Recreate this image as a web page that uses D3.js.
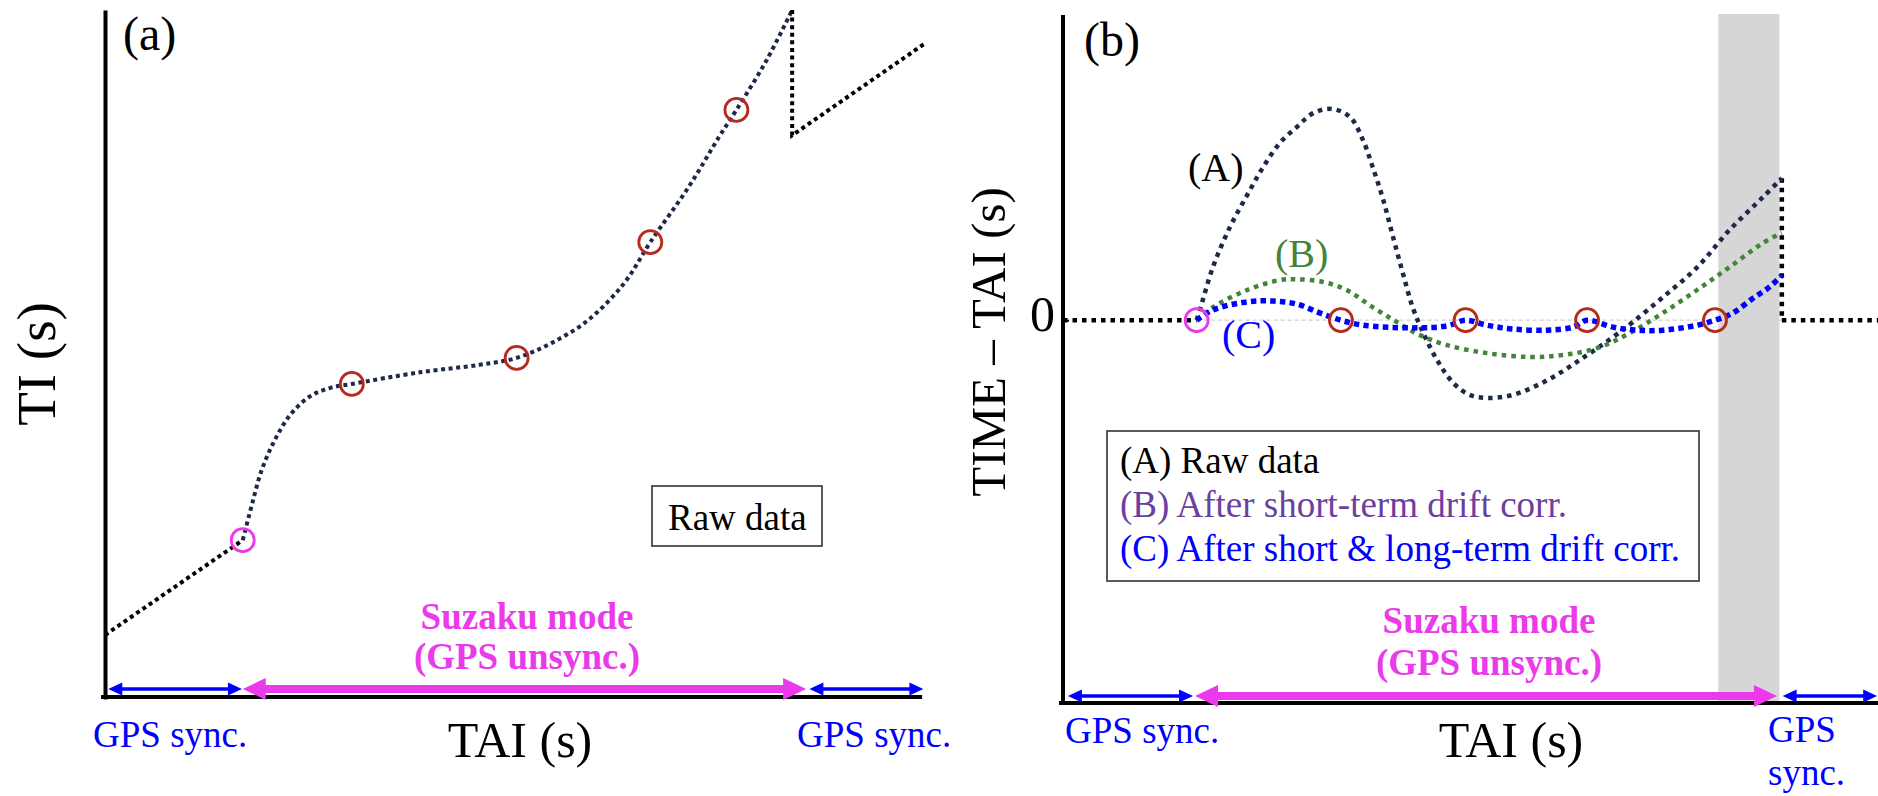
<!DOCTYPE html>
<html>
<head>
<meta charset="utf-8">
<script src="https://cdn.jsdelivr.net/npm/d3@7"></script>
<style>
  html, body { margin: 0; padding: 0; background: #fff; }
  svg { display: block; }
  text { font-family: "Liberation Serif", "Times New Roman", serif; }
</style>
</head>
<body>
<svg id="chart" width="1878" height="796"></svg>
<script>
// ---------- Panel (a): TI versus TAI ----------
// Segment recorded while GPS-synchronised, before Suzaku mode begins
const syncBeforeTAI = [0, 16.8];
const syncBeforeTI  = [9.05, 22.9];

// Raw TI during Suzaku mode (GPS unsynchronised)
const rawTAI = [16.8, 17.9, 19.1, 20.7, 22.6, 25.0, 27.4, 30.1, 38.4, 45.7, 50.2, 54.5, 58.9, 63.3, 66.5, 71.2, 74.9, 77.0, 80.7, 83.8];
const rawTI  = [22.9, 28.0, 33.1, 37.5, 41.2, 43.9, 45.1, 45.7, 47.4, 48.5, 49.5, 51.7, 55.0, 60.4, 66.4, 74.5, 81.8, 85.7, 93.0, 100.3];

// Jump back on GPS re-synchronisation, then synchronised again
const syncAfterTAI = [83.8, 83.8, 100.1];
const syncAfterTI  = [100.3, 82.0, 95.5];

// Reference points on the raw curve (first one = start of Suzaku mode)
const markTAI_a = [16.8, 30.1, 50.2, 66.5, 77.0];
const markTI_a  = [22.9, 45.7, 49.5, 66.4, 85.7];

// Interval spans along the TAI axis
const spanA = { syncL: [0.4, 16.7], suzaku: [16.8, 85.5], syncR: [85.9, 99.8] };

// ---------- Panel (b): TIME - TAI versus TAI ----------
const curveTAI_A = [16.4, 16.8, 18.4, 20.5, 22.6, 24.5, 26.6, 28.7, 30.7, 33.0, 35.2, 36.8, 38.0, 39.3, 40.5, 41.7, 42.9, 44.2, 45.9, 47.9, 49.9, 52.0, 55.2, 59.4, 63.4, 67.5, 69.9, 73.6, 77.8, 81.8, 85.9, 88.2];
const curveDT_A  = [0, 2.7, 13.9, 24.4, 32.7, 39.8, 46.3, 50.5, 54.1, 55.2, 53.1, 47.1, 40.0, 31.4, 21.7, 12.3, 3.4, -3.3, -10.4, -16.4, -19.5, -20.3, -19.5, -15.7, -10.4, -4.4, -0.5, 6.0, 13.8, 23.6, 32.2, 37.1];

const curveTAI_B = [16.4, 18.4, 22.6, 26.6, 28.7, 31.9, 34.8, 38.0, 41.0, 43.8, 47.1, 52.0, 57.3, 61.3, 65.5, 69.6, 73.6, 77.8, 81.8, 85.9, 88.2];
const curveDT_B  = [0, 3.4, 7.9, 10.5, 10.7, 10.0, 7.9, 3.4, -0.5, -3.9, -6.5, -8.6, -9.6, -9.1, -7.3, -3.3, 1.9, 7.9, 13.9, 20.2, 22.8];

const curveTAI_C = [16.4, 18.4, 22.6, 25.8, 28.7, 31.5, 34.1, 36.8, 42.9, 47.1, 49.4, 52.0, 55.2, 59.4, 62.6, 64.3, 67.5, 70.4, 73.6, 77.8, 80.0, 82.2, 84.7, 86.7, 88.2];
const curveDT_C  = [0, 2.7, 4.8, 5.0, 4.2, 1.9, 0, -1.3, -2.0, -1.5, 0, -1.3, -2.3, -2.6, -1.8, 0, -1.8, -2.6, -2.6, -1.3, 0, 1.9, 5.8, 8.7, 11.7];

const markTAI_b = [16.4, 34.1, 49.4, 64.3, 80.0];
const markDT_b  = [0, 0, 0, 0, 0];

const syncLevelB = [[0, 16.4], [88.2, 100]];      // TAI ranges at TIME - TAI = 0
const jumpTAI_b = 88.2;                             // re-sync step
const shadeTAI_b = [80.4, 87.9];                    // extrapolated interval
const spanB = { syncL: [0.6, 15.95], suzaku: [16.2, 87.6], syncR: [88.3, 99.9] };

const legendLines = ["(A) Raw data", "(B) After short-term drift corr.", "(C) After short & long-term drift corr."];
const legendColors = ["#000000", "#6b3fa0", "#0000ff"];

// ---------- Styles ----------
const NAVY = "#1c2947", GREEN = "#43843a", BLUE = "#0000ff", MAGENTA = "#ea3aea", RED = "#b62b1d";

const svg = d3.select("#chart");

// Scales
const xa = d3.scaleLinear().domain([0, 100]).range([105, 925]);
const ya = d3.scaleLinear().domain([0, 100]).range([697, 12]);
const xb = d3.scaleLinear().domain([0, 100]).range([1063, 1878]);
const yb = d3.scaleLinear().domain([-100, 80]).range([703, 14]);

function zip(a, b) { return a.map((v, i) => [v, b[i]]); }

function dotted(g, pts, sx, sy, color, w, dash, curve) {
  const line = d3.line().x(d => sx(d[0])).y(d => sy(d[1])).curve(curve || d3.curveLinear);
  g.append("path").attr("d", line(pts)).attr("fill", "none")
    .attr("stroke", color).attr("stroke-width", w).attr("stroke-dasharray", dash);
}

function arrow(g, x1, x2, y, color, shaftW, headL, headW, heads) {
  const left = heads.includes("l"), right = heads.includes("r");
  g.append("line")
    .attr("x1", left ? x1 + headL * 0.8 : x1).attr("x2", right ? x2 - headL * 0.8 : x2)
    .attr("y1", y).attr("y2", y).attr("stroke", color).attr("stroke-width", shaftW);
  if (left) g.append("path").attr("fill", color)
    .attr("d", `M${x1},${y} L${x1 + headL},${y - headW} L${x1 + headL},${y + headW} Z`);
  if (right) g.append("path").attr("fill", color)
    .attr("d", `M${x2},${y} L${x2 - headL},${y - headW} L${x2 - headL},${y + headW} Z`);
}

function styleAxis(sel) {
  sel.select(".domain").attr("stroke", "#000").attr("stroke-width", 4).attr("stroke-linecap", "square");
}

// ================= Panel (a) =================
const ga = svg.append("g");

ga.append("g").attr("transform", `translate(0,${ya(0)})`)
  .call(d3.axisBottom(xa).tickValues([]).tickSizeOuter(0)).call(styleAxis)
  .select(".domain").attr("d", `M${xa(0) - 2},0H${xa(99.4)}`);
ga.append("g").attr("transform", `translate(${xa(0)},0)`)
  .call(d3.axisLeft(ya).tickValues([]).tickSizeOuter(0)).call(styleAxis);

const dashA = "4 3.6";
dotted(ga, zip(syncBeforeTAI, syncBeforeTI), xa, ya, "#000", 4, dashA);
dotted(ga, zip(rawTAI, rawTI), xa, ya, NAVY, 4, dashA, d3.curveCatmullRom.alpha(0.5));
dotted(ga, zip(syncAfterTAI, syncAfterTI), xa, ya, "#000", 4, dashA);

ga.selectAll("circle.mk").data(zip(markTAI_a, markTI_a)).join("circle")
  .attr("cx", d => xa(d[0])).attr("cy", d => ya(d[1])).attr("r", 11.5)
  .attr("fill", "none").attr("stroke", (d, i) => i === 0 ? MAGENTA : RED).attr("stroke-width", 2.8);

// Interval arrows
const arrYa = ya(1.17);
arrow(ga, xa(spanA.syncL[0]), xa(spanA.syncL[1]), arrYa, BLUE, 3.5, 14, 6.5, "lr");
arrow(ga, xa(spanA.suzaku[0]), xa(spanA.suzaku[1]), arrYa, MAGENTA, 8, 23, 11, "lr");
arrow(ga, xa(spanA.syncR[0]), xa(spanA.syncR[1]), arrYa, BLUE, 3.5, 14, 6.5, "lr");

// Labels
ga.append("text").attr("x", 123).attr("y", 50).attr("font-size", 48).text("(a)");
ga.append("text").attr("transform", "translate(55,364) rotate(-90)")
  .attr("text-anchor", "middle").attr("font-size", 55).text("TI (s)");
ga.append("text").attr("x", 520).attr("y", 757).attr("text-anchor", "middle").attr("font-size", 50).text("TAI (s)");
ga.append("text").attr("x", 93).attr("y", 747).attr("font-size", 37).attr("fill", BLUE).text("GPS sync.");
ga.append("text").attr("x", 797).attr("y", 747).attr("font-size", 37).attr("fill", BLUE).text("GPS sync.");
ga.append("text").attr("x", 527).attr("y", 629).attr("text-anchor", "middle").attr("font-size", 37)
  .attr("font-weight", "bold").attr("fill", MAGENTA).text("Suzaku mode");
ga.append("text").attr("x", 527).attr("y", 669).attr("text-anchor", "middle").attr("font-size", 37)
  .attr("font-weight", "bold").attr("fill", MAGENTA).text("(GPS unsync.)");

ga.append("rect").attr("x", 652).attr("y", 486).attr("width", 170).attr("height", 60)
  .attr("fill", "#fff").attr("stroke", "#333").attr("stroke-width", 1.6);
ga.append("text").attr("x", 668).attr("y", 530).attr("font-size", 37).text("Raw data");

// ================= Panel (b) =================
const gb = svg.append("g");

// Extrapolated interval shading
gb.append("rect").attr("x", xb(shadeTAI_b[0])).attr("y", 14)
  .attr("width", xb(shadeTAI_b[1]) - xb(shadeTAI_b[0])).attr("height", yb(-100) - 14)
  .attr("fill", "#d6d6d6");

gb.append("g").attr("transform", `translate(0,${yb(-100)})`)
  .call(d3.axisBottom(xb).tickValues([]).tickSizeOuter(0)).call(styleAxis)
  .select(".domain").attr("d", `M${xb(0) - 2},0H1880`);
const yAxisB = gb.append("g").attr("transform", `translate(${xb(0)},0)`)
  .call(d3.axisLeft(yb).tickValues([0]).tickSizeInner(-6).tickSizeOuter(0).tickPadding(8))
  .call(styleAxis);
yAxisB.select(".domain").attr("d", `M0,${yb(-100)}V17`);
yAxisB.selectAll(".tick line").attr("stroke", "#000").attr("stroke-width", 2);
yAxisB.selectAll(".tick text").attr("font-size", 50).attr("font-family", "Liberation Serif, serif")
  .attr("dy", "0.2em").attr("fill", "#000");

// Zero reference during Suzaku mode
gb.append("line").attr("x1", xb(markTAI_b[0])).attr("x2", xb(jumpTAI_b))
  .attr("y1", yb(0)).attr("y2", yb(0)).attr("stroke", "#cfcfcf").attr("stroke-width", 1.2)
  .attr("stroke-dasharray", "4 3");

const dashB = "4.5 5";
syncLevelB.forEach(r => dotted(gb, [[r[0], 0], [r[1], 0]], xb, yb, "#000", 4.5, dashB));
dotted(gb, [[jumpTAI_b, curveDT_A[curveDT_A.length - 1]], [jumpTAI_b, 0]], xb, yb, "#000", 4.5, dashB);

const smooth = d3.curveCatmullRom.alpha(0.5);
dotted(gb, zip(curveTAI_A, curveDT_A), xb, yb, NAVY, 4.5, dashB, smooth);
dotted(gb, zip(curveTAI_B, curveDT_B), xb, yb, GREEN, 4.5, dashB, smooth);
dotted(gb, zip(curveTAI_C, curveDT_C), xb, yb, BLUE, 5.5, "5.5 4.2", smooth);

gb.selectAll("circle.mk").data(zip(markTAI_b, markDT_b)).join("circle")
  .attr("cx", d => xb(d[0])).attr("cy", d => yb(d[1])).attr("r", 11.5)
  .attr("fill", "none").attr("stroke", (d, i) => i === 0 ? MAGENTA : RED).attr("stroke-width", 2.8);

// Curve tags
gb.append("text").attr("x", 1188).attr("y", 181).attr("font-size", 40).text("(A)");
gb.append("text").attr("x", 1275).attr("y", 267).attr("font-size", 40).attr("fill", GREEN).text("(B)");
gb.append("text").attr("x", 1222).attr("y", 348).attr("font-size", 40).attr("fill", BLUE).text("(C)");

// Legend
gb.append("rect").attr("x", 1107).attr("y", 431).attr("width", 592).attr("height", 150)
  .attr("fill", "#fff").attr("stroke", "#333").attr("stroke-width", 1.6);
gb.selectAll("text.leg").data(legendLines).join("text")
  .attr("x", 1120).attr("y", (d, i) => 473 + i * 44).attr("font-size", 37)
  .attr("fill", (d, i) => legendColors[i]).text(d => d);

// Interval arrows
const arrYb = yb(-98.2);
arrow(gb, xb(spanB.syncL[0]), xb(spanB.syncL[1]), arrYb, BLUE, 3.5, 14, 6.5, "lr");
arrow(gb, xb(spanB.suzaku[0]), xb(spanB.suzaku[1]), arrYb, MAGENTA, 8, 23, 11, "lr");
arrow(gb, xb(spanB.syncR[0]), xb(spanB.syncR[1]), arrYb, BLUE, 3.5, 14, 6.5, "lr");

// Labels
gb.append("text").attr("x", 1084).attr("y", 56).attr("font-size", 48).text("(b)");
gb.append("text").attr("transform", "translate(1005,342) rotate(-90)")
  .attr("text-anchor", "middle").attr("font-size", 49).text("TIME – TAI (s)");
gb.append("text").attr("x", 1511).attr("y", 757).attr("text-anchor", "middle").attr("font-size", 50).text("TAI (s)");
gb.append("text").attr("x", 1065).attr("y", 743).attr("font-size", 37).attr("fill", BLUE).text("GPS sync.");
gb.append("text").attr("x", 1768).attr("y", 742).attr("font-size", 37).attr("fill", BLUE).text("GPS");
gb.append("text").attr("x", 1768).attr("y", 785).attr("font-size", 37).attr("fill", BLUE).text("sync.");
gb.append("text").attr("x", 1489).attr("y", 633).attr("text-anchor", "middle").attr("font-size", 37)
  .attr("font-weight", "bold").attr("fill", MAGENTA).text("Suzaku mode");
gb.append("text").attr("x", 1489).attr("y", 675).attr("text-anchor", "middle").attr("font-size", 37)
  .attr("font-weight", "bold").attr("fill", MAGENTA).text("(GPS unsync.)");
</script>
</body>
</html>
